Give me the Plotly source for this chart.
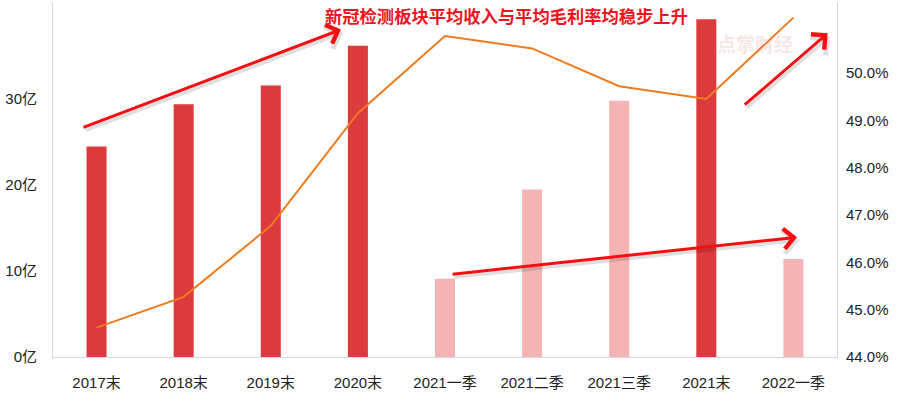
import plotly.graph_objects as go

categories = ["2017末", "2018末", "2019末", "2020末", "2021一季", "2021二季", "2021三季", "2021末", "2022一季"]
revenue = [24.5, 29.4, 31.6, 36.2, 9.1, 19.5, 29.8, 39.3, 11.4]          # 亿
gross_margin = [44.62, 45.27, 46.77, 49.15, 50.78, 50.52, 49.72, 49.45, 51.17]  # %
is_quarter = [False, False, False, False, True, True, True, False, True]

left_ticks = [0, 10, 20, 30]
left_tick_text = ["0亿", "10亿", "20亿", "30亿"]
right_ticks = [44, 45, 46, 47, 48, 49, 50]
right_tick_text = ["44.0%", "45.0%", "46.0%", "47.0%", "48.0%", "49.0%", "50.0%"]

DARK = "#DC3A3C"
LIGHT = "#F4B4B4"
bar_colors = [LIGHT if q else DARK for q in is_quarter]

FONT = "Liberation Sans, Noto Sans CJK SC, sans-serif"
AXIS_COLOR = "#D3DAE6"

fig = go.Figure()
fig.add_trace(go.Bar(
    x=categories, y=revenue, marker=dict(color=bar_colors, line=dict(width=0)),
    width=0.23, yaxis="y", showlegend=False, hoverinfo="x+y",
))
fig.add_trace(go.Scatter(
    x=categories, y=gross_margin, mode="lines", yaxis="y2",
    line=dict(color="#F07A1E", width=2), showlegend=False,
))

# Red arrows (head position in paper coords, tail offset in pixels)
arrows = [
    dict(x=0.3673, y=0.9225, ax=-259, ay=98.5),
    dict(x=0.9490, y=0.3372, ax=-346, ay=37),
    dict(x=0.9881, y=0.9118, ax=-84.4, ay=72.7),
]
annotations = []
for a in arrows:
    # shadow
    annotations.append(dict(
        x=a["x"] + 2 / 784, y=a["y"] - 3 / 355, xref="paper", yref="paper",
        ax=a["ax"], ay=a["ay"], axref="pixel", ayref="pixel",
        showarrow=True, arrowhead=4, arrowsize=1.3, arrowwidth=3.5,
        arrowcolor="rgba(0,0,0,0.12)", text="",
    ))
    annotations.append(dict(
        x=a["x"], y=a["y"], xref="paper", yref="paper",
        ax=a["ax"], ay=a["ay"], axref="pixel", ayref="pixel",
        showarrow=True, arrowhead=4, arrowsize=1.3, arrowwidth=3,
        arrowcolor="#F50F12", text="",
    ))

annotations.append(dict(
    x=0.578, y=0.9606, xref="paper", yref="paper", xanchor="center", yanchor="middle",
    text="新冠检测板块平均收入与平均毛利率均稳步上升", showarrow=False,
    font=dict(family="Noto Sans CJK SC", size=17.3, color="#F0141E", weight="bold"),
))
annotations.append(dict(
    x=0.895, y=0.8845, xref="paper", yref="paper", xanchor="center", yanchor="middle",
    text="点掌财经", showarrow=False,
    font=dict(family="Noto Sans CJK SC", size=19, color="rgba(225,120,120,0.2)", weight="bold"),
))

fig.update_layout(
    width=904, height=402,
    margin=dict(l=53, r=67, t=2, b=45, autoexpand=False),
    paper_bgcolor="white", plot_bgcolor="white",
    font=dict(family=FONT, size=15, color="#333333"),
    xaxis=dict(
        type="category", showgrid=False, showline=True, linecolor=AXIS_COLOR, linewidth=1,
        ticks="outside", ticklen=12, tickcolor="rgba(0,0,0,0)", automargin=False,
        tickfont=dict(size=15, color="#222222"), zeroline=False,
    ),
    yaxis=dict(
        range=[0, 41.3], tickvals=left_ticks, ticktext=left_tick_text,
        showgrid=False, showline=True, linecolor=AXIS_COLOR, linewidth=1, automargin=False,
        ticks="outside", ticklen=12, tickcolor="rgba(0,0,0,0)", zeroline=False,
        tickfont=dict(size=15, color="#222222"),
    ),
    yaxis2=dict(
        range=[44, 51.5], overlaying="y", side="right",
        tickvals=right_ticks, ticktext=right_tick_text, showgrid=False, automargin=False,
        showline=True, linecolor=AXIS_COLOR, linewidth=1,
        ticks="outside", ticklen=5, tickcolor="rgba(0,0,0,0)", zeroline=False,
        tickfont=dict(size=15, color="#222222"),
    ),
    annotations=annotations,
)

fig.write_html(
    "out.html",
    config={"displayModeBar": False},
    post_script="document.body.style.margin='0';document.body.style.overflow='hidden';",
)
